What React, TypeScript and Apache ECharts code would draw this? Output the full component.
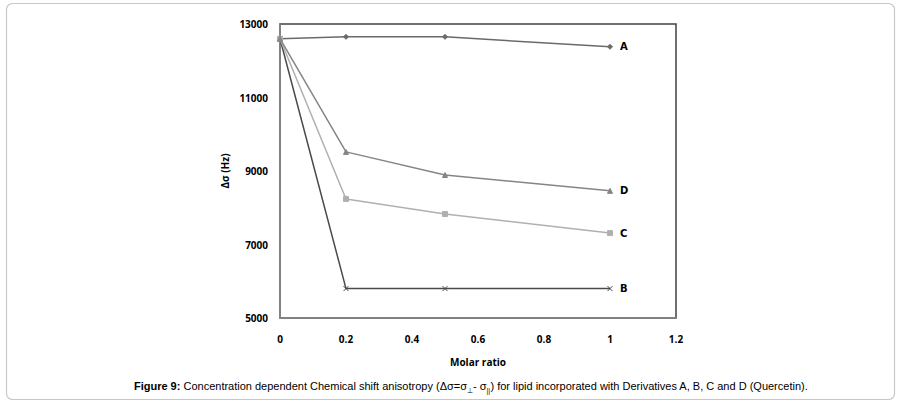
import React, { useEffect, useRef } from "react";
import * as echarts from "echarts";

const molarRatio = [0, 0.2, 0.5, 1];
const seriesA = [12600, 12650, 12650, 12380];
const seriesB = [12600, 5800, 5800, 5800];
const seriesC = [12600, 8240, 7830, 7310];
const seriesD = [12600, 9520, 8890, 8460];
const seriesNames = ["A", "B", "C", "D"];
const xTicks = { min: 0, max: 1.2, interval: 0.2 };
const yTicks = { min: 5000, max: 13000, interval: 2000 };

const crossPath = "path://M0,0L10,10M10,0L0,10";

export default function App() {
  const ref = useRef<HTMLDivElement>(null);
  useEffect(() => {
    if (!ref.current) return;
    const chart = echarts.init(ref.current, undefined, { renderer: "svg" });
    const mk = (name: string, data: number[], color: string, symbol: string, size: number) => ({
      name,
      type: "line",
      data: data.map((v, i) => [molarRatio[i], v]),
      symbol,
      symbolSize: size,
      showAllSymbol: true,
      lineStyle: { color, width: 1.5 },
      itemStyle: { color, borderColor: color },
      label: { show: false },
      endLabel: {
        show: true,
        formatter: name,
        distance: 10,
        fontFamily: "DejaVu Sans",
        fontWeight: "bold",
        fontSize: 10,
        color: "#000",
      },
      z: 3,
    });
    chart.setOption({
      animation: false,
      backgroundColor: "#fff",
      grid: {
        left: 280,
        right: 224,
        top: 24,
        bottom: 89,
        show: true,
        borderColor: "#404040",
        borderWidth: 1.5,
      },
      xAxis: {
        type: "value",
        min: xTicks.min,
        max: xTicks.max,
        interval: xTicks.interval,
        name: "Molar ratio",
        nameLocation: "middle",
        nameGap: 39,
        nameTextStyle: { fontFamily: "Open Sans", fontWeight: "bold", fontSize: 10, color: "#000" },
        axisLine: { show: true, lineStyle: { color: "#888", width: 1.5 } },
        axisTick: { show: false },
        splitLine: { show: false },
        axisLabel: { margin: 16, fontFamily: "Open Sans", fontWeight: "bold", fontSize: 10, color: "#000" },
      },
      yAxis: {
        type: "value",
        min: yTicks.min,
        max: yTicks.max,
        interval: yTicks.interval,
        name: "Δσ (Hz)",
        nameLocation: "middle",
        nameGap: 50,
        nameRotate: 90,
        nameTextStyle: { fontFamily: "Open Sans", fontWeight: "bold", fontSize: 10, color: "#000" },
        axisLine: { show: true, lineStyle: { color: "#888", width: 1.5 } },
        axisTick: { show: false },
        splitLine: { show: false },
        axisLabel: {
          margin: 12,
          fontFamily: "Open Sans",
          fontWeight: "bold",
          fontSize: 10,
          color: "#000",
          formatter: (v: number) => String(v),
        },
      },
      series: [
        mk(seriesNames[0], seriesA, "#6a6a6a", "diamond", 5),
        mk(seriesNames[1], seriesB, "#4a4a4a", crossPath, 5),
        mk(seriesNames[2], seriesC, "#b0b0b0", "rect", 5),
        mk(seriesNames[3], seriesD, "#858585", "triangle", 5),
      ],
      graphic: [
        {
          type: "rect",
          shape: { x: 6.5, y: 3.5, width: 888, height: 396, r: 6 },
          style: { fill: "none", stroke: "#c8c8c8", lineWidth: 1.2 },
          silent: true,
          z: -1,
        },
        {
          type: "text",
          x: 471,
          y: 386,
          style: {
            text: "{b|Figure 9:}{n| Concentration dependent Chemical shift anisotropy (Δσ=σ}{s|⊥}{n|- σ}{s|||}{n|) for lipid incorporated with Derivatives A, B, C and D (Quercetin).}",
            align: "center",
            verticalAlign: "middle",
            rich: {
              b: { fontFamily: "Liberation Sans", fontWeight: "bold", fontSize: 11, color: "#111", lineHeight: 16, verticalAlign: "middle" },
              n: { fontFamily: "Liberation Sans", fontSize: 11, color: "#111", lineHeight: 16, verticalAlign: "middle" },
              s: { fontFamily: "Liberation Sans", fontSize: 7, color: "#111", lineHeight: 16, verticalAlign: "bottom" },
            },
          },
        },
      ],
    });
    return () => chart.dispose();
  }, []);
  return (
    <div
      ref={ref}
      style={{ position: "fixed", left: 0, top: 0, width: 900, height: 407 }}
    />
  );
}
